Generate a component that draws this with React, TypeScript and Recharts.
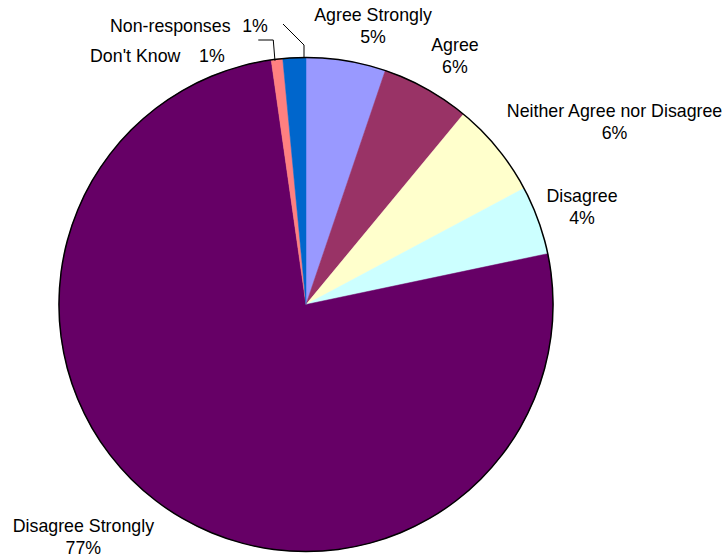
import React from 'react'
import { PieChart, Pie, Cell } from 'recharts'

document.body.style.margin = '0'

const categories = [
  'Agree Strongly',
  'Agree',
  'Neither Agree nor Disagree',
  'Disagree',
  'Disagree Strongly',
  "Don't Know",
  'Non-responses',
]
const shares = [5.2, 5.8, 6.2, 4.5, 76.05, 0.75, 1.5]
const shownPercents = ['5%', '6%', '6%', '4%', '77%', '1%', '1%']
const colors = ['#9999FF', '#993366', '#FFFFCC', '#CCFFFF', '#660066', '#FF8080', '#0066CC']

const data = categories.map((name, i) => ({ name, value: shares[i], shown: shownPercents[i] }))
const outline = [{ name: 'outline', value: 1 }]

// label nudges, relative to a point 30px outside the rim on each slice's mid angle
const labelLayout = [
  { dx: 22, dy: -10.5 },
  { dx: 14, dy: -11.8 },
  { dx: 94, dy: -11.8 },
  { dx: 15.7, dy: -8.3 },
  { dx: -63.7, dy: 0.2 },
  { dx: -183.4, dy: 32.3, gap: 18.7 },
  { dx: -183, dy: 3.7, gap: 11.7 },
]

const RAD = Math.PI / 180
const polar = (cx: number, cy: number, r: number, angle: number) => ({
  x: cx + Math.cos(-angle * RAD) * r,
  y: cy + Math.sin(-angle * RAD) * r,
})

const font = { fontFamily: '"Liberation Sans", Arial, sans-serif', fontSize: 17.8, fill: '#000' }

const renderLabel = (props: any) => {
  const { cx, cy, midAngle, outerRadius, endAngle, index, payload } = props
  const lay = labelLayout[index]
  const a = polar(cx, cy, outerRadius + 30, midAngle)
  const x = a.x + lay.dx
  const y = a.y + lay.dy
  const name = categories[index]
  const pct = payload?.shown ?? shownPercents[index]

  if (lay.gap !== undefined) {
    let pts: number[][] = []
    if (index === 5) {
      const p = polar(cx, cy, outerRadius, midAngle)
      pts = [
        [p.x - 18.7, p.y - 19.2],
        [p.x - 3.7, p.y - 19.2],
        [p.x - 2, p.y + 1.5],
      ]
    } else {
      const p = polar(cx, cy, outerRadius, endAngle)
      pts = [
        [p.x - 23, p.y - 33.5],
        [p.x - 2, p.y - 12.5],
        [p.x - 2, p.y + 0.5],
      ]
    }
    return (
      <g key={`lbl-${index}`}>
        <polyline points={pts.map((q) => q.join(',')).join(' ')} fill="none" stroke="#000" strokeWidth={1} />
        <text x={x} y={y} textAnchor="start" {...font}>
          <tspan>{name}</tspan>
          <tspan dx={lay.gap}>{pct}</tspan>
        </text>
      </g>
    )
  }

  return (
    <text key={`lbl-${index}`} x={x} y={y} textAnchor="middle" {...font}>
      <tspan x={x} y={y}>{name}</tspan>
      <tspan x={x} y={y + 22}>{pct}</tspan>
    </text>
  )
}

export default function App() {
  return (
    <div style={{ width: 724, height: 558, background: '#fff' }}>
      <PieChart width={724} height={558} margin={{ top: 0, right: 0, bottom: 0, left: 0 }}>
        <Pie
          data={data}
          dataKey="value"
          nameKey="name"
          cx={306}
          cy={304.5}
          outerRadius={247}
          startAngle={90}
          endAngle={-270}
          label={renderLabel}
          labelLine={false}
          isAnimationActive={false}
        >
          {data.map((d, i) => (
            <Cell key={d.name} fill={colors[i]} stroke={colors[i]} strokeWidth={0.5} />
          ))}
        </Pie>
        <Pie
          data={outline}
          dataKey="value"
          cx={306}
          cy={304.5}
          innerRadius={246.3}
          outerRadius={247.8}
          startAngle={90}
          endAngle={-270}
          fill="#000"
          stroke="none"
          label={false}
          labelLine={false}
          isAnimationActive={false}
        />
      </PieChart>
    </div>
  )
}
